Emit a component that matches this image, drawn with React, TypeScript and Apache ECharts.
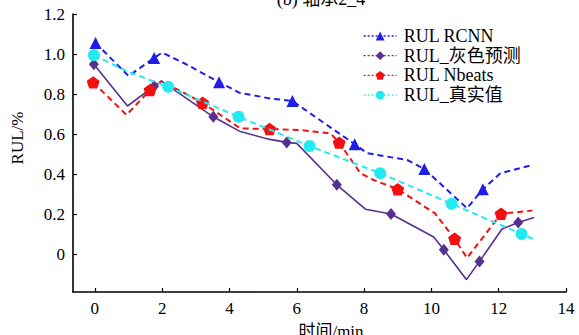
import React, { useEffect, useRef } from "react";
import * as echarts from "echarts";

const seriesNames = ["RUL RCNN", "RUL_灰色预测", "RUL Nbeats", "RUL_真实值"];

const rcnnTime = [0.02, 1.0, 1.76, 2.0, 2.7, 3.69, 4.3, 5.2, 5.87, 7.72, 8.09, 9.28, 9.79, 11.06, 11.53, 12.05, 13.0];
const rcnnRul = [1.055, 0.89, 0.98, 1.007, 0.95, 0.859, 0.806, 0.778, 0.765, 0.549, 0.504, 0.47, 0.425, 0.229, 0.324, 0.404, 0.445];
const rcnnMarked = [0, 2, 5, 8, 9, 12, 14];

const greyTime = [-0.03, 0.97, 1.76, 1.98, 3.52, 4.32, 5.2, 5.7, 6.0, 7.19, 8.04, 8.8, 10.07, 10.37, 11.04, 11.43, 12.1, 12.58, 13.05];
const greyRul = [0.949, 0.74, 0.839, 0.864, 0.686, 0.612, 0.573, 0.558, 0.553, 0.346, 0.224, 0.2, 0.085, 0.021, -0.128, -0.037, 0.125, 0.158, 0.183];
const greyMarked = [0, 2, 4, 7, 9, 11, 13, 15, 17];

const nbeatsTime = [-0.05, 0.94, 1.64, 1.98, 3.2, 4.32, 5.19, 6.1, 7.0, 7.26, 7.89, 8.28, 9.0, 10.1, 10.69, 11.06, 12.07, 13.0];
const nbeatsRul = [0.858, 0.695, 0.82, 0.865, 0.756, 0.628, 0.625, 0.62, 0.603, 0.557, 0.404, 0.37, 0.324, 0.204, 0.076, -0.02, 0.201, 0.217];
const nbeatsMarked = [0, 2, 4, 6, 9, 12, 14, 16];

const realTime = [-0.03, 0.99, 2.18, 4.27, 6.38, 8.48, 10.6, 12.68, 13.03];
const realRul = [0.994, 0.911, 0.836, 0.686, 0.54, 0.404, 0.251, 0.1, 0.075];
const realMarked = [0, 2, 3, 4, 5, 6, 7];

const xTicks = [0, 2, 4, 6, 8, 10, 12, 14];
const yTicks = [0, 0.2, 0.4, 0.6, 0.8, 1.0, 1.2];

const FONT = "Liberation Serif, Times New Roman, Noto Sans CJK SC, serif";
const PENTAGON = "path://M0,-10 L9.51,-3.09 L5.88,8.09 L-5.88,8.09 L-9.51,-3.09 Z";

function buildData(t: number[], v: number[], marked: number[]) {
  return t.map((x, i) =>
    marked.includes(i) ? { value: [x, v[i]] } : { value: [x, v[i]], symbol: "none" }
  );
}

export default function App() {
  const ref = useRef<HTMLDivElement>(null);
  useEffect(() => {
    if (!ref.current) return;
    const chart = echarts.init(ref.current, undefined, { renderer: "svg" });
    const axisCommon = {
      axisLine: { show: true, onZero: false, lineStyle: { color: "#000", width: 1.6 } },
      axisTick: { show: true, inside: true, length: 4, lineStyle: { color: "#000", width: 1.2 } },
      splitLine: { show: false },
    };
    chart.setOption({
      animation: false,
      textStyle: { fontFamily: FONT },
      grid: { left: 73, right: 13, top: 14, bottom: 43 },
      xAxis: {
        type: "value",
        min: -0.65,
        max: 14,
        ...axisCommon,
        axisTick: { ...axisCommon.axisTick, customValues: xTicks },
        axisLabel: {
          customValues: xTicks,
          color: "#000",
          fontFamily: FONT,
          fontSize: 17,
          margin: 8,
          formatter: (v: number) => String(v),
        },
      },
      yAxis: {
        type: "value",
        min: -0.19,
        max: 1.2,
        ...axisCommon,
        axisTick: { ...axisCommon.axisTick, customValues: yTicks },
        axisLabel: {
          customValues: yTicks,
          color: "#000",
          fontFamily: FONT,
          fontSize: 17,
          margin: 8,
          formatter: (v: number) => (Math.abs(v) < 1e-9 ? "0" : v.toFixed(1)),
        },
      },
      legend: {
        orient: "vertical",
        left: 358,
        top: 22,
        itemWidth: 33,
        itemHeight: 11,
        itemGap: 1.7,
        data: seriesNames,
        lineStyle: { type: [2, 2], width: 1.3 },
        textStyle: { fontFamily: FONT, fontSize: 18, color: "#000", lineHeight: 18, padding: [0, 0, 0, 2] },
      },
      graphic: [
        {
          type: "text",
          x: 321,
          y: -1,
          style: { text: "(b) 轴承2_4", fontFamily: FONT, fontSize: 18, fill: "#000", textAlign: "center", textVerticalAlign: "middle" },
        },
        {
          type: "text",
          x: 17,
          y: 138,
          rotation: Math.PI / 2,
          style: { text: "RUL/%", fontFamily: FONT, fontSize: 17, fill: "#000", textAlign: "center", textVerticalAlign: "middle" },
        },
        {
          type: "text",
          x: 331,
          y: 331,
          style: { text: "时间/min", fontFamily: FONT, fontSize: 17, fill: "#000", textAlign: "center", textVerticalAlign: "middle" },
        },
      ],
      series: [
        {
          name: seriesNames[0],
          type: "line",
          data: buildData(rcnnTime, rcnnRul, rcnnMarked),
          symbol: "triangle",
          symbolSize: 12,
          color: "#1e1ee6",
          lineStyle: { color: "#1e1ee6", width: 2, type: [6, 4] },
          itemStyle: { color: "#1e1ee6" },
          z: 2,
        },
        {
          name: seriesNames[1],
          type: "line",
          data: buildData(greyTime, greyRul, greyMarked),
          symbol: "diamond",
          symbolSize: [10, 12],
          color: "#55308f",
          lineStyle: { color: "#55308f", width: 1.6, type: "solid" },
          itemStyle: { color: "#55308f" },
          z: 3,
        },
        {
          name: seriesNames[2],
          type: "line",
          data: buildData(nbeatsTime, nbeatsRul, nbeatsMarked),
          symbol: PENTAGON,
          symbolSize: 13,
          symbolKeepAspect: true,
          color: "#f21010",
          lineStyle: { color: "#f21010", width: 2, type: [6, 4] },
          itemStyle: { color: "#f21010" },
          z: 4,
        },
        {
          name: seriesNames[3],
          type: "line",
          data: buildData(realTime, realRul, realMarked),
          symbol: "circle",
          symbolSize: 12,
          color: "#22eaf0",
          lineStyle: { color: "#22eaf0", width: 2, type: [6, 4] },
          itemStyle: { color: "#22eaf0" },
          z: 5,
        },
      ],
    });
    return () => chart.dispose();
  }, []);
  return <div ref={ref} style={{ width: 579, height: 335, position: "absolute", left: 0, top: 0 }} />;
}
